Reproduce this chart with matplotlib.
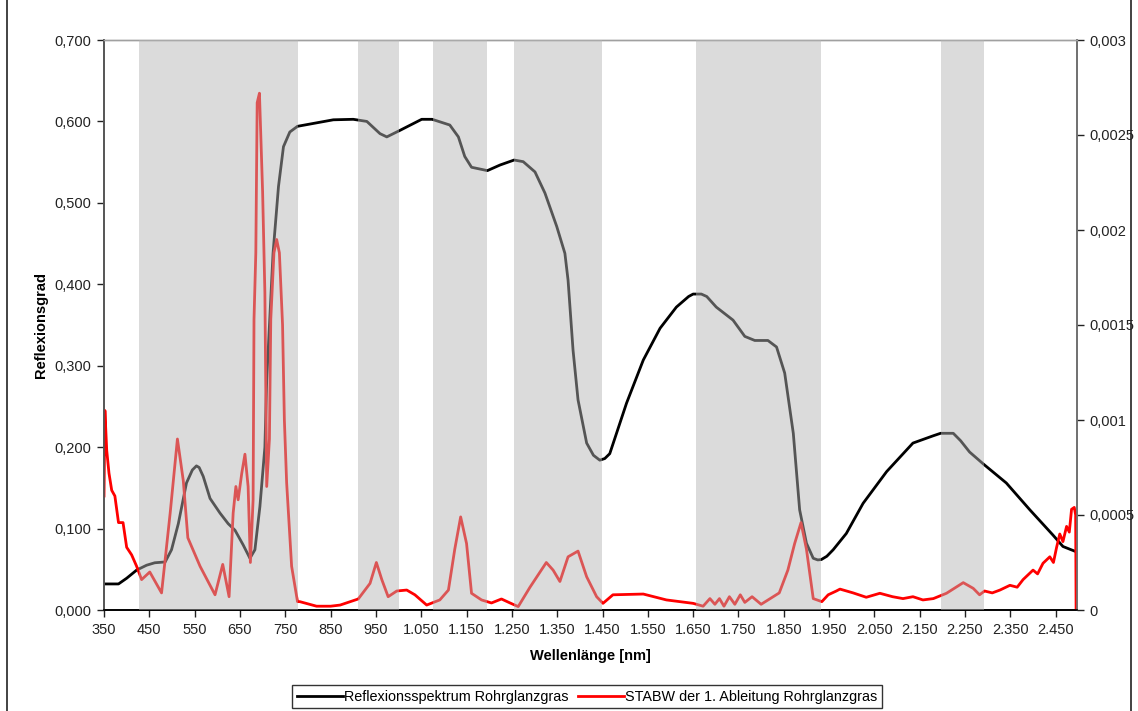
import matplotlib
matplotlib.use("Agg")
import matplotlib.pyplot as plt
from matplotlib.ticker import FixedLocator, FuncFormatter
from matplotlib.lines import Line2D

plt.rcParams['font.family'] = ['Liberation Sans', 'DejaVu Sans']

# Reflexionsspektrum (linke Achse)
refl_nm = [350, 382, 400, 422, 444, 462, 485, 499, 514, 532, 545, 554, 560, 569, 584, 606, 624,
           639, 657, 672, 683, 694, 705, 709, 716, 723, 735, 746, 760, 777, 856, 900, 930, 959,
           974, 1003, 1051, 1074, 1113, 1132, 1146, 1161, 1196, 1224, 1255, 1275, 1301, 1323,
           1349, 1367, 1374, 1385, 1396, 1415, 1430, 1444, 1455, 1466, 1503, 1540, 1577, 1613,
           1640, 1650, 1668, 1680, 1701, 1738, 1764, 1786, 1815, 1834, 1852, 1871, 1885, 1900,
           1915, 1925, 1933, 1945, 1959, 1988, 2025, 2077, 2135, 2180, 2196, 2224, 2240, 2260,
           2291, 2341, 2393, 2444, 2466, 2495]
refl_val = [0.032, 0.032, 0.039, 0.049, 0.055, 0.058, 0.059, 0.074, 0.106, 0.156, 0.172, 0.177,
            0.175, 0.164, 0.137, 0.119, 0.106, 0.098, 0.080, 0.0635, 0.074, 0.127, 0.200, 0.282,
            0.360, 0.438, 0.520, 0.569, 0.587, 0.594, 0.602, 0.6026, 0.600, 0.585, 0.581, 0.589,
            0.6026, 0.6026, 0.5956, 0.581, 0.557, 0.5437, 0.5396, 0.5465, 0.5526, 0.5506, 0.538,
            0.512, 0.471, 0.438, 0.405, 0.319, 0.258, 0.205, 0.190, 0.184, 0.186, 0.192, 0.254,
            0.307, 0.346, 0.372, 0.385, 0.388, 0.388, 0.385, 0.372, 0.356, 0.336, 0.331, 0.331,
            0.323, 0.291, 0.217, 0.123, 0.082, 0.0635, 0.0615, 0.062, 0.066, 0.074, 0.094, 0.131,
            0.170, 0.205, 0.214, 0.217, 0.217, 0.208, 0.194, 0.179, 0.156, 0.123, 0.092, 0.078,
            0.0716]

# STABW der 1. Ableitung (rechte Achse)
stabw_nm = [350, 352, 356, 361, 367, 374, 382, 392, 400, 411, 422, 433, 451, 477, 496, 512,
            525, 535, 562, 595, 612, 626, 635, 641, 646, 654, 661, 668, 673, 679, 681, 685,
            688, 693, 696, 700, 705, 709, 715, 718, 725, 731, 737, 744, 748, 753, 764, 777,
            782, 819, 850, 871, 911, 937, 951, 963, 977, 996, 1018, 1036, 1062, 1091, 1110,
            1124, 1137, 1150, 1161, 1183, 1205, 1227, 1246, 1264, 1290, 1326, 1341, 1356,
            1374, 1396, 1415, 1437, 1451, 1473, 1540, 1591, 1650, 1672, 1687, 1698, 1708,
            1718, 1730, 1742, 1754, 1764, 1780, 1800, 1820, 1840, 1859, 1874, 1888, 1900,
            1915, 1934, 1948, 1966, 1974, 2003, 2032, 2062, 2090, 2113, 2135, 2157, 2180,
            2209, 2230, 2246, 2268, 2282, 2293, 2310, 2327, 2349, 2365, 2378, 2400, 2410,
            2422, 2437, 2445, 2452, 2459, 2466, 2474, 2480, 2485, 2491, 2494, 2495]
stabw_val = [0.0006, 0.00105, 0.00084, 0.00072, 0.00063, 0.0006, 0.00046, 0.00046, 0.00033,
             0.00029, 0.00023, 0.00016, 0.0002, 0.00009, 0.00051, 0.0009, 0.00068, 0.00038,
             0.00023, 0.00008, 0.00024, 0.00007, 0.00051, 0.00065, 0.00058, 0.00072, 0.00082,
             0.00065, 0.00025, 0.00058, 0.00153, 0.00188, 0.00267, 0.00272, 0.00249, 0.0022,
             0.00167, 0.00065, 0.0009, 0.00153, 0.00188, 0.00195, 0.00188, 0.0015, 0.001,
             0.00067, 0.00023, 0.000044, 0.000044, 0.00002, 0.00002, 0.000026, 0.000058,
             0.00014, 0.00025, 0.00016, 0.00007, 0.0001, 0.000105, 0.00008, 0.000026, 0.000053,
             0.000105, 0.00032, 0.00049, 0.00035, 0.000088, 0.000053, 0.000037, 0.000058,
             0.000037, 0.000018, 0.00012, 0.00025, 0.00021, 0.00015, 0.00028, 0.00031,
             0.000175, 0.00007, 0.000035, 0.00008, 0.000084, 0.000053, 0.000035, 0.00002,
             0.00006, 0.00003, 0.00006, 0.00002, 0.00007, 0.00003, 0.00008, 0.00004, 0.00007,
             0.00003, 0.00006, 0.00009, 0.00021, 0.00035, 0.00046, 0.00032, 0.00006, 0.000044,
             0.00008, 0.0001, 0.00011, 0.00009, 0.000067, 0.000088, 0.00007, 0.00006, 0.00007,
             0.000053, 0.00006, 0.000088, 0.00012, 0.000144, 0.000114, 0.00008, 0.0001, 0.00009,
             0.000105, 0.00013, 0.00012, 0.00016, 0.00021, 0.00019, 0.000246, 0.00028, 0.00025,
             0.00033, 0.0004, 0.00036, 0.00044, 0.00041, 0.00053, 0.00054, 0.0005, 0.0]

# Markierte Wellenlaengenbereiche
band_start = [427, 910, 1075, 1255, 1656, 2196]
band_end = [777, 1002, 1196, 1449, 1932, 2291]

xticks = list(range(350, 2451, 100))

fig = plt.figure(figsize=(11.38, 7.11), dpi=100)
ax = fig.add_axes([104 / 1138, 1 - 610 / 711, (1077 - 104) / 1138, 570 / 711])
ax2 = ax.twinx()

ax.plot(refl_nm, refl_val, color='black', lw=2.0, solid_joinstyle='round',
        label='Reflexionsspektrum Rohrglanzgras')
ax2.plot(stabw_nm, stabw_val, color='#ff0000', lw=2.0, solid_joinstyle='round',
         label='STABW der 1. Ableitung Rohrglanzgras', zorder=2)

# halbtransparente Balken ueber den Kurven
for s, e in zip(band_start, band_end):
    ax2.axvspan(s, e, color='#b4b4b4', alpha=0.48, lw=0, zorder=5)

ax.set_xlim(350, 2497)
ax.set_ylim(0, 0.7)
ax2.set_ylim(0, 0.003)

ax.xaxis.set_major_locator(FixedLocator(xticks))
ax.xaxis.set_major_formatter(FuncFormatter(lambda v, p: f"{int(v):,}".replace(',', '.')))
ax.set_yticks([i / 10 for i in range(8)])
ax.yaxis.set_major_formatter(FuncFormatter(lambda v, p: f"{v:.3f}".replace('.', ',')))
ax2.set_yticks([i * 0.0005 for i in range(7)])
ax2.yaxis.set_major_formatter(FuncFormatter(lambda v, p: f"{v:g}".replace('.', ',')))

for a in (ax, ax2):
    a.tick_params(labelsize=10.5, length=5, width=1, direction='out', colors='#222222', pad=4)
    a.spines['top'].set_color('#a0a0a0')
    a.spines['left'].set_color('#555555')
    a.spines['right'].set_color('#707070')
    a.spines['bottom'].set_color('black')
    for sp in a.spines.values():
        sp.set_linewidth(1.2)
    a.spines['top'].set_linewidth(1.0)

ax.set_xlabel('Wellenlänge [nm]', fontsize=10.5, fontweight='bold')
ax.xaxis.set_label_coords(0.5, -0.068)
ax.set_ylabel('Reflexionsgrad', fontsize=10.5, fontweight='bold')
ax.yaxis.set_label_coords(-0.058, 0.5)

h1, l1 = ax.get_legend_handles_labels()
h2, l2 = ax2.get_legend_handles_labels()
leg = fig.legend(h1 + h2, l1 + l2, loc='lower center', bbox_to_anchor=(0.516, 0.004),
                 ncol=2, fontsize=10.4, frameon=True, fancybox=False, handlelength=3.2,
                 handletextpad=0.1, columnspacing=0.6, borderpad=0.3, borderaxespad=0)
leg.get_frame().set_edgecolor('black')
leg.get_frame().set_linewidth(1.0)

# Rahmen des Diagrammbereichs
fig.add_artist(Line2D([7 / 1138, 7 / 1138], [0, 1], color='#222222', lw=1.2))
fig.add_artist(Line2D([1131 / 1138, 1131 / 1138], [0, 1], color='#222222', lw=1.2))

fig.savefig('out.png', dpi=100)
